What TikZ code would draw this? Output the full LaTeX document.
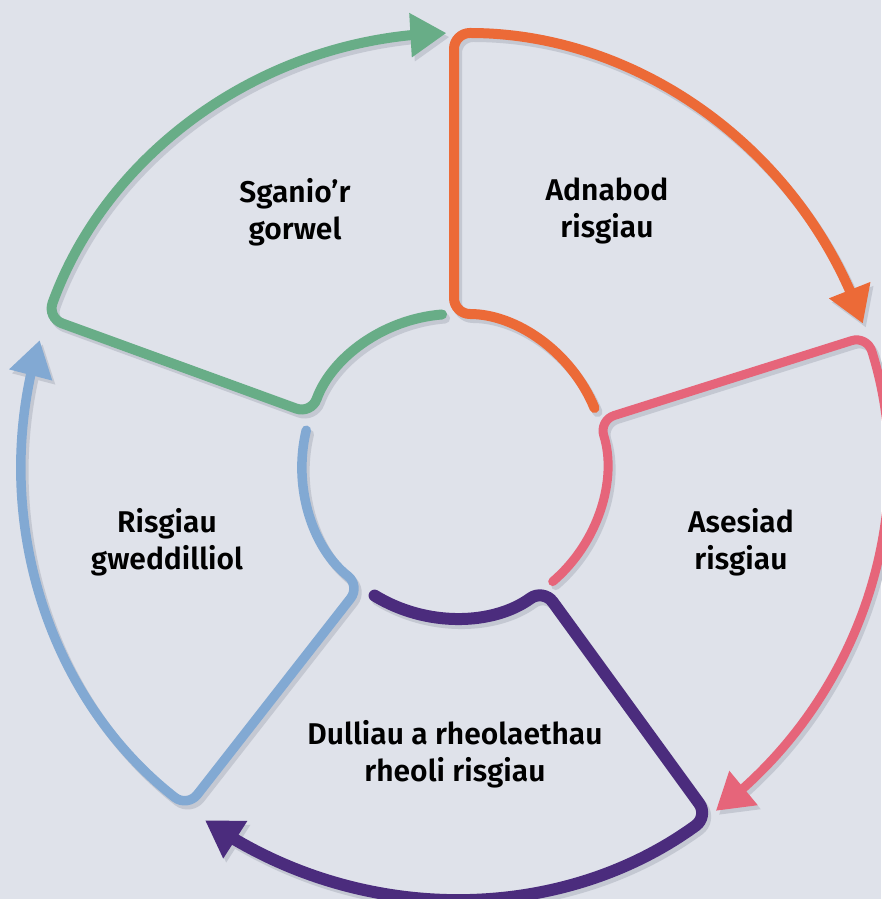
\documentclass[tikz,border=0pt]{standalone}
\usepackage{fontspec}
\setmainfont{Fira Sans}[BoldFont={Fira Sans SemiBold}]
\usetikzlibrary{arrows.meta,bending}

\definecolor{bgcol}{RGB}{223,226,234}
\definecolor{shadowgrey}{RGB}{196,200,210}
\definecolor{sgreen}{RGB}{104,173,135}
\definecolor{sorange}{RGB}{236,106,55}
\definecolor{spink}{RGB}{230,101,122}
\definecolor{spurple}{RGB}{75,44,125}
\definecolor{sblue}{RGB}{130,169,211}

\begin{document}
\begin{tikzpicture}[x=1pt, y=1pt,
    ring/.style={line cap=round, rounded corners=16pt,
      -{Triangle[length=36pt, width=42pt]}},
    stage/.style={font=\bfseries\fontsize{30}{37}\selectfont, align=center}]
  \useasboundingbox (-454,-433) rectangle (427,466);
  \fill[bgcol] (-454,-433) rectangle (427,466);

  % soft shadows under the loops
  \foreach \f/\c/\t/\w in {94.5/160/91/10, 22.4/90/19.2/10, -49.5/17.5/-52.8/9,
      -121.5/-54/-125.1/12, 166.4/232/163.1/9.5} {
    \draw[ring, shadowgrey, line width=\w pt, shift={(3,-4)}]
      (\f:152) arc[start angle=\f, end angle=\c, radius=152]
      -- (\c:433) arc[start angle=\c, end angle=\t, radius=433];
  }

  % the five stages of the cycle
  \foreach \col/\f/\c/\t/\w in {sgreen/94.5/160/91/10, sorange/22.4/90/19.2/10,
      spink/-49.5/17.5/-52.8/9, spurple/-121.5/-54/-125.1/12, sblue/166.4/232/163.1/9.5} {
    \draw[ring, \col, line width=\w pt]
      (\f:152) arc[start angle=\f, end angle=\c, radius=152]
      -- (\c:433) arc[start angle=\c, end angle=\t, radius=433];
  }

  \node[stage] (scan) at (-159,254) {Sganio’r\\gorwel};
  \node[stage] (identify) at (153,255) {Adnabod\\risgiau};
  \node[stage] (assess) at (287,-76) {Asesiad\\risgiau};
  \node[stage] (control) at (1,-288) {Dulliau a rheolaethau\\rheoli risgiau};
  \node[stage] (residual) at (-287,-76) {Risgiau\\gweddilliol};
\end{tikzpicture}
\end{document}
